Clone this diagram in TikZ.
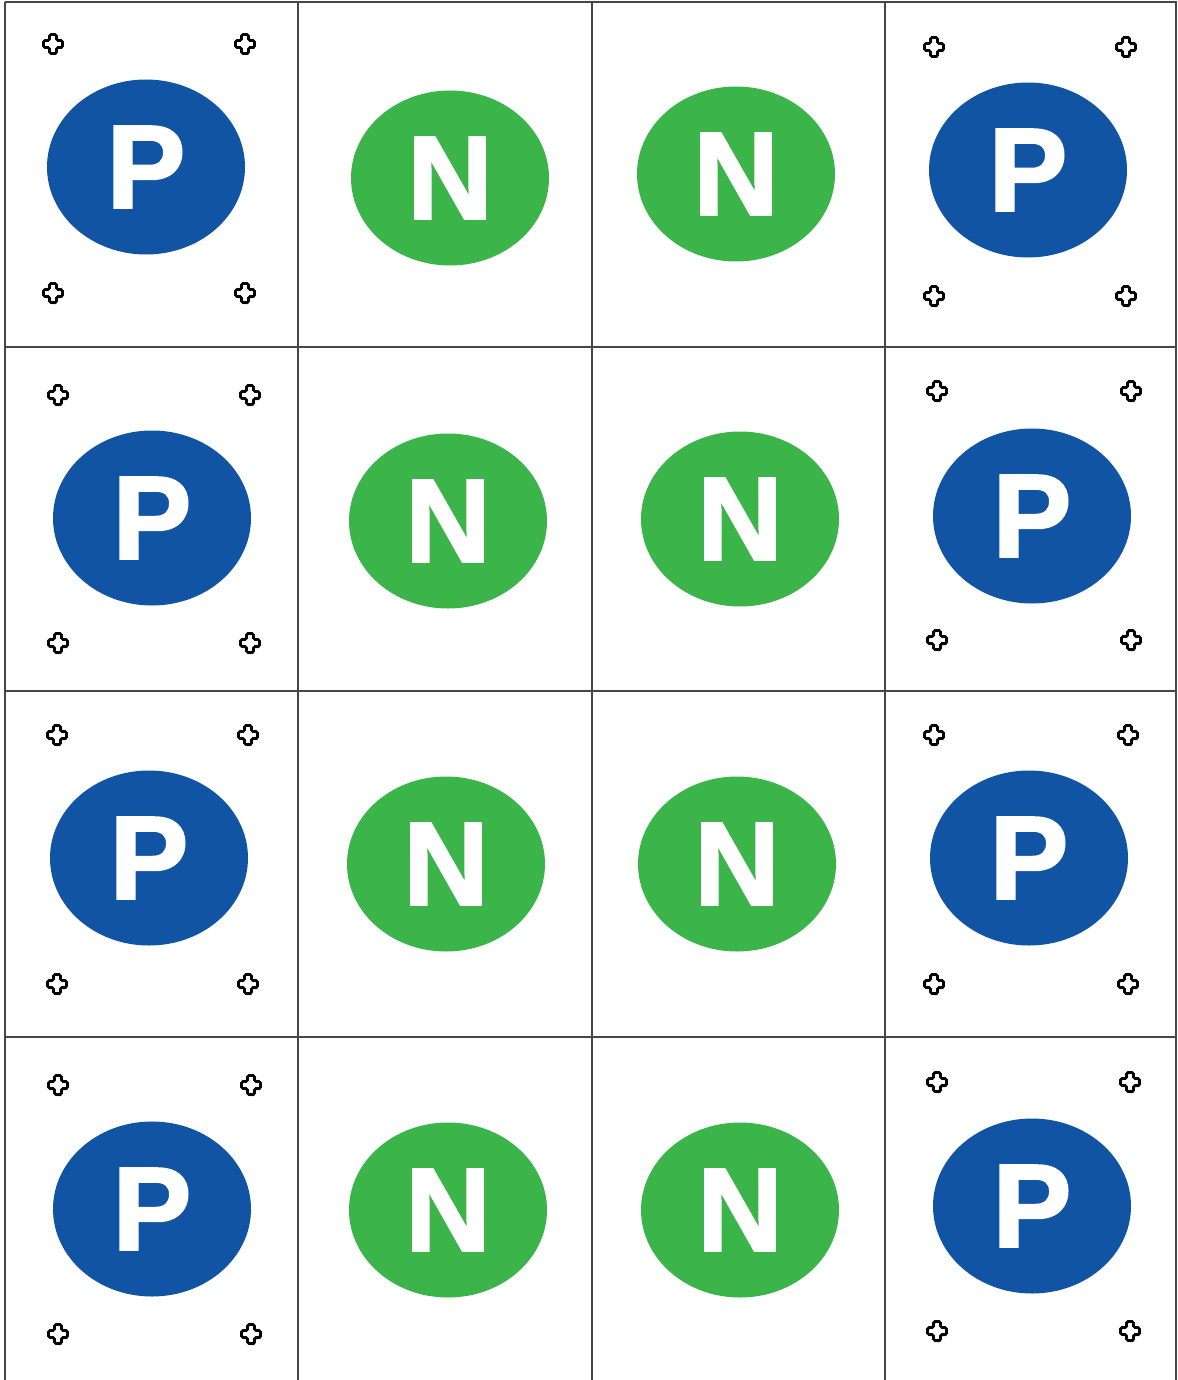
\documentclass[tikz,border=0pt]{standalone}
\usepackage{fontspec}
\newfontfamily\signfont{Liberation Sans}[BoldFeatures={FakeBold=2}]
\usetikzlibrary{shapes.geometric}

\definecolor{pblue}{RGB}{17,84,164}
\definecolor{ngreen}{RGB}{59,181,74}
\definecolor{gridgray}{RGB}{70,70,70}

\tikzset{
  pion/.style={ellipse, fill=pblue, minimum width=198pt, minimum height=175pt,
    inner sep=0pt, text=white, font=\signfont\bfseries\fontsize{118}{118}\selectfont},
  nion/.style={pion, fill=ngreen},
  gridline/.style={draw=gridgray, line width=1.8pt},
  hole/.pic={
    \fill[black!55, rounded corners=1pt] (-2,-7)--(4,-7)--(4,-1)--(10,-1)--(10,5)--(4,5)--(4,11)--(-2,11)--(-2,5)--(-8,5)--(-8,-1)--(-2,-1)--cycle;
    \draw[line width=2.8pt, fill=white, rounded corners=1.5pt] (-3.5,-9.5)--(3.5,-9.5)--(3.5,-3.5)--(9.5,-3.5)--(9.5,3.5)--(3.5,3.5)--(3.5,9.5)--(-3.5,9.5)--(-3.5,3.5)--(-9.5,3.5)--(-9.5,-3.5)--(-3.5,-3.5)--cycle;
  }
}

\begin{document}
\begin{tikzpicture}[x=1pt, y=-1pt]

\useasboundingbox[fill=white] (0,0) rectangle (1177,1380);

% grid of cells
\foreach \gx in {5,298,592,885,1176}
  \draw[gridline] (\gx,2) -- (\gx,1380);
\foreach \gy in {2,347,691,1037}
  \draw[gridline] (5,\gy) -- (1177,\gy);

% row 1
\node[pion] (p11) at (146,167) {P};
\node[nion] (n12) at (450,178) {N};
\node[nion] (n13) at (736,174) {N};
\node[pion] (p14) at (1028,170) {P};

% row 2
\node[pion] (p21) at (152,518) {P};
\node[nion] (n22) at (448,521) {N};
\node[nion] (n23) at (740,519) {N};
\node[pion] (p24) at (1032,516) {P};

% row 3
\node[pion] (p31) at (149,858) {P};
\node[nion] (n32) at (446,864) {N};
\node[nion] (n33) at (737,864) {N};
\node[pion] (p34) at (1029,858) {P};

% row 4
\node[pion] (p41) at (152,1209) {P};
\node[nion] (n42) at (448,1210) {N};
\node[nion] (n43) at (740,1210) {N};
\node[pion] (p44) at (1032,1206) {P};

% holes round the P cells
\foreach \hx/\hy in {53/44, 245/44, 53/293, 245/293,
                     934/47, 1126/47, 934/296, 1126/296,
                     58/395, 250/395, 58/643, 250/643,
                     937/391, 1131/391, 937/640, 1131/640,
                     57/735, 248/735, 57/984, 248/984,
                     934/735, 1128/735, 934/984, 1128/984,
                     58/1085, 251/1085, 58/1334, 251/1334,
                     937/1082, 1130/1082, 937/1331, 1130/1331}
  \pic at (\hx,\hy) {hole};

\end{tikzpicture}
\end{document}
